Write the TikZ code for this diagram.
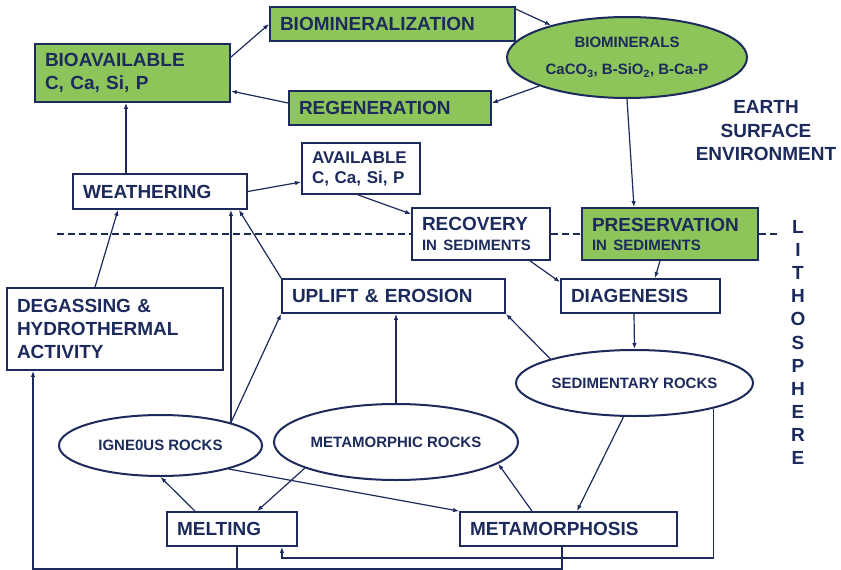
\documentclass[tikz,border=0pt]{standalone}
\usepackage{fontspec}
\setmainfont{Liberation Sans}
\usetikzlibrary{shapes.geometric,arrows.meta}
\definecolor{navy}{RGB}{28,42,92}
\definecolor{leaf}{RGB}{141,197,90}
\tikzset{
  box/.style={shape=rectangle,draw=navy,line width=1.8pt,text=navy,align=left,
    inner xsep=10pt,inner ysep=0pt,font=\bfseries\fontsize{19}{23}\selectfont},
  greenbox/.style={box,fill=leaf},
  rock/.style={shape=ellipse,draw=navy,line width=2pt,text=navy,inner sep=0pt,
    align=center,font=\bfseries\fontsize{15}{18}\selectfont},
  tag/.style={text=navy,align=center,inner sep=0pt},
  flow/.style={draw=navy,line width=1.2pt},
  dashline/.style={draw=navy,line width=2pt,dash pattern=on 7pt off 4pt}
}
\newcommand{\smalltext}{\fontsize{15}{18}\selectfont}
\begin{document}
\begin{tikzpicture}[x=1pt,y=-1pt,>={Latex[length=6pt,width=4.5pt]},
  every edge/.style={draw=navy,line width=1.2pt}]
\useasboundingbox (0,0) rectangle (841,570);
\node[greenbox,text width=175pt,minimum height=58pt] (BIO) at (132.5,73) {BIOAVAILABLE\\C, Ca, Si, P};
\node[greenbox,text width=225pt,minimum height=34pt] (BMZ) at (392.5,24) {BIOMINERALIZATION};
\node[greenbox,text width=182pt,minimum height=34pt] (REG) at (390,108) {REGENERATION};
\node[rock,fill=leaf,minimum width=240pt,minimum height=81pt,font=\bfseries\fontsize{15}{27}\selectfont] (BMS) at (627,57.5) {BIOMINERALS\\CaCO\textsubscript{3}, B-SiO\textsubscript{2}, B-Ca-P};
\node[box,text width=154pt,minimum height=35pt] (WEA) at (160,191.5) {WEATHERING};
\node[box,text width=98pt,minimum height=51pt,font=\bfseries\fontsize{17}{20}\selectfont] (AVL) at (361,168.5) {AVAILABLE\\C, Ca, Si, P};
\node[box,text width=118pt,minimum height=52pt] (REC) at (481,234) {RECOVERY\\[-3pt]{\smalltext IN SEDIMENTS}};
\node[greenbox,text width=156pt,minimum height=52pt] (PRE) at (670,234) {PRESERVATION\\[-4pt]{\smalltext IN SEDIMENTS}};
\node[box,text width=203pt,minimum height=34pt] (UPL) at (393.5,296) {UPLIFT \& EROSION};
\node[box,text width=139pt,minimum height=34pt] (DIA) at (640.5,296) {DIAGENESIS};
\node[box,text width=196pt,minimum height=82pt] (DEG) at (115,329) {DEGASSING \&\\HYDROTHERMAL\\ACTIVITY};
\node[rock,minimum width=237pt,minimum height=66pt] (SED) at (634.5,383) {SEDIMENTARY ROCKS};
\node[rock,minimum width=203pt,minimum height=61pt] (IGN) at (160.5,445.5) {IGNE0US ROCKS};
\node[rock,minimum width=244pt,minimum height=76pt] (MET) at (396,442) {METAMORPHIC ROCKS};
\node[box,text width=110pt,minimum height=34pt] (MEL) at (232,529) {MELTING};
\node[box,text width=197pt,minimum height=34pt] (MPH) at (568.5,529) {METAMORPHOSIS};
\node[tag,font=\bfseries\fontsize{19}{23.5}\selectfont] (ESE) at (766,131) {EARTH\\SURFACE\\ENVIRONMENT};
\node[tag,font=\bfseries\fontsize{19}{23.1}\selectfont] (LIT) at (798,342.5) {L\\I\\T\\H\\O\\S\\P\\H\\E\\R\\E};
\coordinate (DL) at (57,234);
\coordinate (DR) at (777,234);
\draw[dashline] (DL) -- (REC);
\draw[dashline] (REC) -- (PRE);
\draw[dashline] (PRE) -- (DR);
\path [->] ([yshift=-14pt]BIO.north east) edge (BMZ.west);
\path [->] ([yshift=-3pt]BMZ.north east) edge (BMS.157);
\path [->] (BMS.198) edge ([yshift=5pt]REG.east);
\path [->] ([yshift=5pt]REG.west) edge ([yshift=-18pt]BIO.east);
\path [->] ([xshift=-34pt]WEA.north) edge ([xshift=-6.5pt]BIO.south);
\path [->] (WEA.east) edge ([yshift=-13.5pt]AVL.west);
\path [->] ([xshift=-3pt]AVL.south) edge ([yshift=20pt]REC.west);
\path [->] (BMS.south) edge ([xshift=-36pt]PRE.north);
\path [->] ([xshift=-10pt]PRE.south) edge ([xshift=14.5pt]DIA.north);
\path [->] ([xshift=49pt]REC.south) edge ([yshift=-4pt]DIA.north west);
\path [->] ([xshift=-6.5pt]DIA.south) edge (SED.north);
\path [->] (SED.164) edge (UPL.south east);
\path [->] (SED.252) edge ([xshift=8.5pt]MPH.north);
\path [->] (MET.north) edge (MET.north |- UPL.south);
\path [->] (IGN.18) edge (UPL.south west);
\path [->] (IGN.18) edge (IGN.18 |- WEA.south);
\path [->] (UPL.north west) edge ([xshift=-9pt]WEA.south east);
\path [->] ([xshift=-20pt]DEG.north) edge ([xshift=-42pt]WEA.south);
\path [->] (IGN.341) edge (MPH.north west);
\path [->] (MET.196) edge ([xshift=25pt]MEL.north);
\path [->] ([xshift=-37pt]MEL.north) edge (IGN.south);
\path [->] ([xshift=-36.5pt]MPH.north) edge (MET.348);
\draw[flow,->] (SED.342) |- ([xshift=-16pt,yshift=-11pt]MEL.south east) -- ([xshift=-16pt]MEL.south east);
\draw[flow,->] ([xshift=-6.5pt]MPH.south) |- ([xshift=-82pt,yshift=-198pt]DEG.south) -- ([xshift=-82pt]DEG.south);
\draw[flow] ([xshift=5pt]MEL.south) -- ([xshift=5pt,yshift=-22pt]MEL.south);
\end{tikzpicture}
\end{document}
